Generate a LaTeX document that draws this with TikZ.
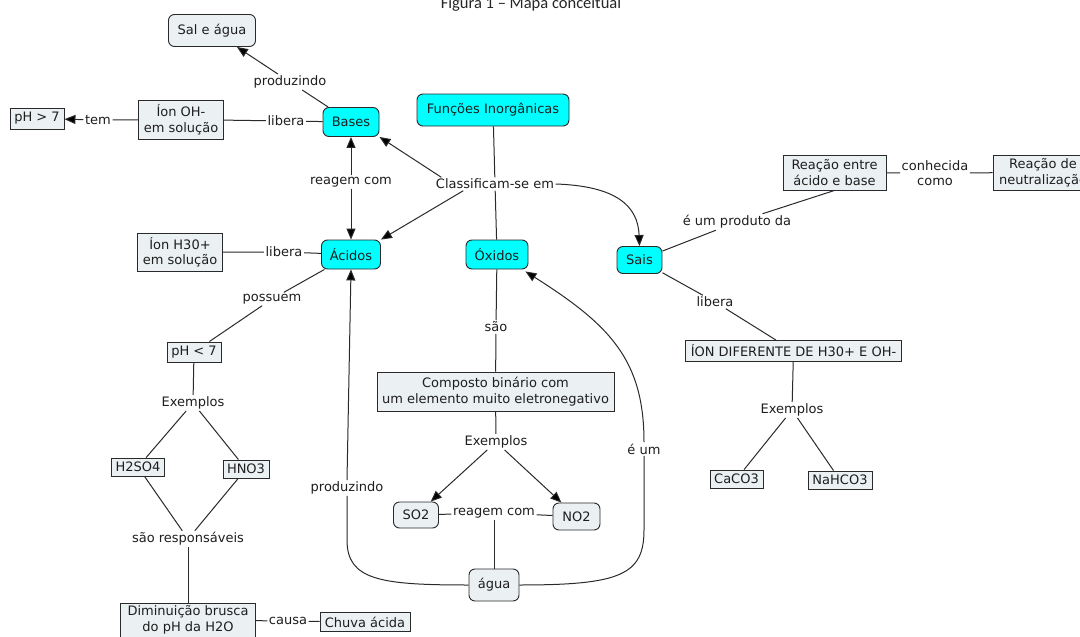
\documentclass[tikz,border=0pt]{standalone}
\usepackage{fontspec}
\setmainfont{DejaVu Sans}
\newfontfamily\titlefont{Carlito}
\usetikzlibrary{arrows.meta,calc}
\definecolor{cyanfill}{HTML}{00FFFF}
\definecolor{grayfill}{HTML}{EBF0F3}
\definecolor{linecol}{HTML}{2A2A2A}
\definecolor{txt}{HTML}{1E1E1E}
\begin{document}
\begin{tikzpicture}[x=1pt,y=-1pt,
  font=\fontsize{13}{15.5}\selectfont,
  concept/.style={draw=linecol, line width=0.9pt, inner sep=0pt, align=center, text=txt},
  cyanbox/.style={concept, fill=cyanfill, rounded corners=6pt},
  grayround/.style={concept, fill=grayfill, rounded corners=6pt},
  grayrect/.style={concept, fill=grayfill},
  lab/.style={inner sep=1.5pt, align=center, text=txt},
  link/.style={draw=linecol, line width=1pt},
  arr/.style={link, -{Triangle[length=11pt,width=9pt,fill=black]}}]
\useasboundingbox (0,0) rectangle (1080,637);
\fill[white] (0,0) rectangle (1080,637);

% title
\node[font=\titlefont\fontsize{16.5}{20}\selectfont, anchor=base, text=black!85] (title) at (531,8.5) {Figura 1 – Mapa conceitual};

% concepts
\node[grayround, minimum width=87pt, minimum height=32pt] (sal) at (212,30.5) {Sal e água};
\node[cyanbox, minimum width=56pt, minimum height=29pt] (bases) at (351,122) {Bases};
\node[grayrect, minimum width=85pt, minimum height=39pt] (ionoh) at (181,119.5) {Íon OH-\\em solução};
\node[grayrect, minimum width=54pt, minimum height=21pt] (ph7) at (37,118.5) {pH > 7};
\node[cyanbox, minimum width=152pt, minimum height=32pt] (funcoes) at (493,110) {Funções Inorgânicas};
\node[cyanbox, minimum width=59pt, minimum height=29pt] (acidos) at (351,254.5) {Ácidos};
\node[grayrect, minimum width=85pt, minimum height=38pt] (ionh) at (180,252) {Íon H30+\\em solução};
\node[grayrect, minimum width=54pt, minimum height=20pt] (phl7) at (194,352) {pH < 7};
\node[grayrect, minimum width=53pt, minimum height=18pt] (h2so4) at (138,467) {H2SO4};
\node[grayrect, minimum width=46pt, minimum height=18pt] (hno3) at (246,469) {HNO3};
\node[grayrect, minimum width=135pt, minimum height=34pt] (dim) at (188,620) {Diminuição brusca\\do pH da H2O};
\node[grayrect, minimum width=90pt, minimum height=19pt] (chuva) at (365,622) {Chuva ácida};
\node[cyanbox, minimum width=62pt, minimum height=29pt] (oxidos) at (497,254.5) {Óxidos};
\node[grayrect, minimum width=237pt, minimum height=39pt] (composto) at (495.5,391.5) {Composto binário com\\um elemento muito eletronegativo};
\node[grayround, minimum width=45pt, minimum height=26pt] (so2) at (416,515) {SO2};
\node[grayround, minimum width=47pt, minimum height=27pt] (no2) at (576.5,516.5) {NO2};
\node[grayround, minimum width=50pt, minimum height=32pt] (agua) at (494,585) {água};
\node[cyanbox, minimum width=45pt, minimum height=27pt] (sais) at (639.5,260) {Sais};
\node[grayrect, minimum width=103pt, minimum height=35pt] (reacao) at (834.5,172.5) {Reação entre\\ácido e base};
\node[grayrect, minimum width=100pt, minimum height=35pt] (neutral) at (1043,172.5) {Reação de\\neutralização};
\node[grayrect, minimum width=216pt, minimum height=21pt] (ion) at (793.5,351) {ÍON DIFERENTE DE H30+ E OH-};
\node[grayrect, minimum width=53pt, minimum height=18pt] (caco3) at (736.5,479) {CaCO3};
\node[grayrect, minimum width=64pt, minimum height=18pt] (nahco3) at (840,480) {NaHCO3};

% linking phrases
\node[lab] (prod1) at (290,82) {produzindo};
\node[lab] (lib1) at (286,121) {libera};
\node[lab] (tem) at (98,120) {tem};
\node[lab] (reag1) at (351,182) {reagem com};
\node[lab] (class) at (495,184) {Classificam-se em};
\node[lab] (lib2) at (284,252) {libera};
\node[lab] (poss) at (272,299) {possuem};
\node[lab] (ex1) at (193,403) {Exemplos};
\node[lab] (resp) at (188,539) {são responsáveis};
\node[lab] (causa) at (288,621) {causa};
\node[lab] (prod2) at (347,488) {produzindo};
\node[lab] (sao) at (496,327) {são};
\node[lab] (ex2) at (496,442) {Exemplos};
\node[lab] (reag2) at (494,513) {reagem com};
\node[lab] (eum) at (644,449) {é um};
\node[lab] (produto) at (737,222) {é um produto da};
\node[lab] (conh) at (935,173) {conhecida\\como};
\node[lab] (lib3) at (715,302) {libera};
\node[lab] (ex3) at (792,410) {Exemplos};

% connections: Bases
\draw[link] (bases) -- (prod1);
\draw[arr] (prod1) -- (sal);
\draw[link] (bases) -- (lib1) -- (ionoh) -- (tem);
\draw[arr] (tem) -- (ph7);
\draw[arr] (reag1) -- (bases);
\draw[arr] (reag1) -- (acidos);

% Funcoes
\draw[link] (funcoes) -- (class);
\draw[arr] ([xshift=7pt]class.north west) -- (bases.south east);
\draw[arr] ([xshift=29pt]class.south west) -- (acidos.north east);
\draw[link] (class) -- (oxidos);
\draw[arr] (class.east) .. controls (615,186) and (638,205) .. (sais.north);

% Acidos
\draw[link] (acidos) -- (lib2) -- (ionh);
\draw[link] (acidos) -- (poss) -- (phl7);
\draw[link] (phl7) -- (ex1);
\draw[link] (ex1) -- (h2so4);
\draw[link] (ex1) -- (hno3);
\draw[link] (h2so4) -- (resp);
\draw[link] (hno3) -- (resp);
\draw[link] (resp) -- (dim);
\draw[link] (dim) -- (causa) -- (chuva);

% Oxidos
\draw[link] (oxidos) -- (sao) -- (composto) -- (ex2);
\draw[arr] (ex2) -- (so2);
\draw[arr] (ex2) -- (no2);
\draw[link] (so2) -- (reag2) -- (no2);
\draw[link] (reag2) -- (agua);
\draw[link] (agua.west) .. controls (380,585) and (347,580) .. (347,540) -- (prod2.south);
\draw[arr] (prod2.north) -- (acidos.south);
\draw[link] (agua.east) .. controls (620,585) and (644,575) .. (644,530) -- (eum.south);
\draw[arr] (eum.north) .. controls (644,360) and (610,325) .. ([xshift=-3pt,yshift=-2pt]oxidos.south east);

% Sais
\draw[link] (reacao.south) -- (produto);
\draw[link] (produto) -- (sais);
\draw[link] (reacao) -- (conh) -- (neutral);
\draw[link] (sais) -- (lib3) -- (ion);
\draw[link] (ion) -- (ex3);
\draw[link] (ex3) -- (caco3);
\draw[link] (ex3) -- (nahco3);
\end{tikzpicture}
\end{document}
